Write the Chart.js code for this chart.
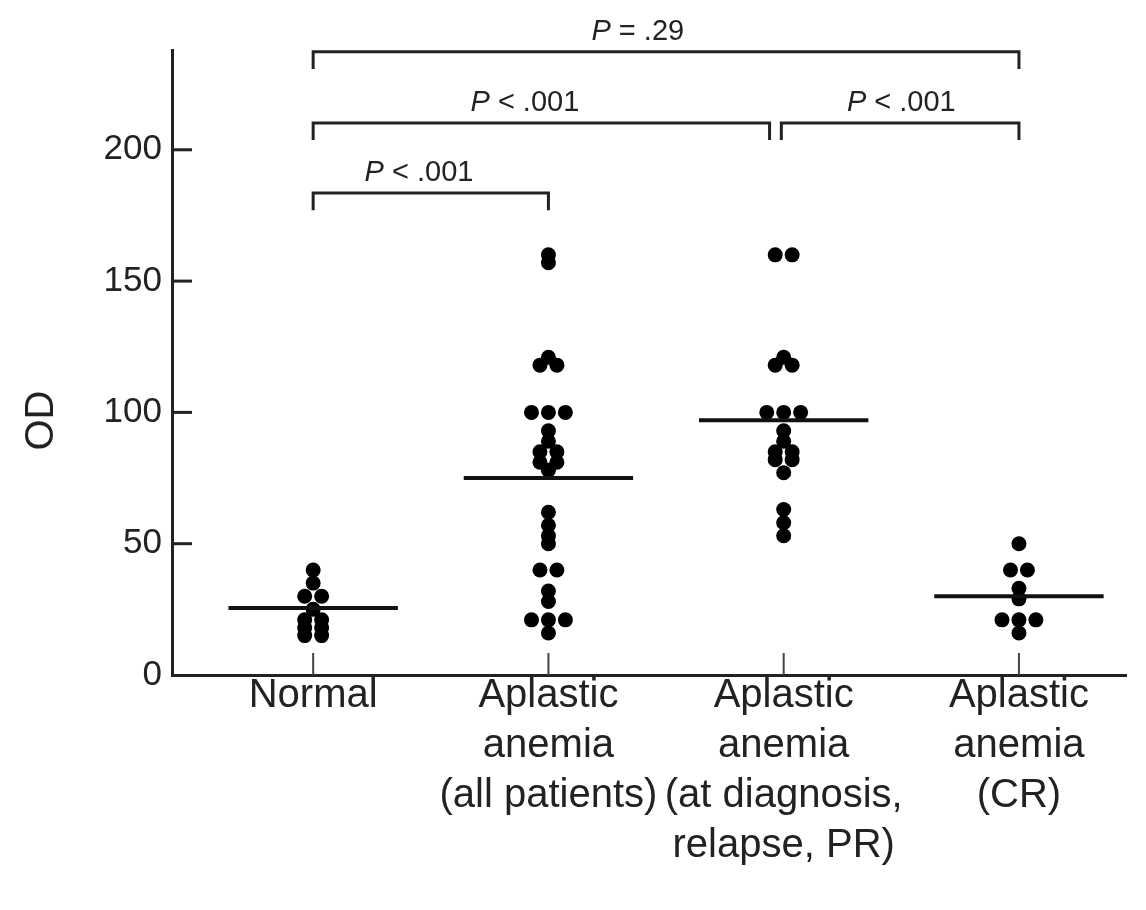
<!DOCTYPE html>
<html>
<head>
<meta charset="utf-8">
<script src="https://cdn.jsdelivr.net/npm/chart.js@4.4.1/dist/chart.umd.min.js"></script>
<style>
  html, body { margin: 0; padding: 0; background: #fff; }
  #wrap { width: 1146px; height: 910px; position: relative; }
</style>
</head>
<body>
<div id="wrap"><canvas id="odChart"></canvas></div>
<script>
// groups along the x axis
const categories = [
  'Normal',
  ['Aplastic', 'anemia', '(all patients)'],
  ['Aplastic', 'anemia', '(at diagnosis,', 'relapse, PR)'],
  ['Aplastic', 'anemia', '(CR)']
];

// OD values per group
const normalOD = [40, 35, 30, 30, 25, 21, 21, 18, 18, 15, 15];
const allPatientsOD = [160, 157, 121, 118, 118, 100, 100, 100, 93, 89, 85, 85, 81, 81, 78,
                       62, 57, 53, 50, 40, 40, 32, 28, 21, 21, 21, 16];
const activeOD = [160, 160, 121, 118, 118, 100, 100, 100, 93, 89, 85, 85, 82, 82, 77, 63, 58, 53];
const crOD = [50, 40, 40, 33, 29, 21, 21, 21, 16];

// horizontal mean bars
const groupMeans = [25.5, 75, 97, 30];

const yTicks = [0, 50, 100, 150, 200];

// significance brackets
const bracketStart = [1, 1, 2.99, 1];
const bracketEnd = [4, 2.94, 4, 2];
const bracketLevel = [237.3, 210.2, 210.2, 183.5];
const bracketText = [' = .29', ' < .001', ' < .001', ' < .001'];
const bracketTextX = [2.38, 1.9, 3.5, 1.45];

const FONT = '"Liberation Sans", Arial, Helvetica, sans-serif';
const INK = '#222';
const DOT_STEP = 0.072;     // sideways step between tied dots (x units)
const BRACKET_DROP = 6.5;   // bracket legs (y units)

// spread tied values side by side, like a column scatter
function swarm(values, center) {
  const counts = {};
  values.forEach(v => { counts[v] = (counts[v] || 0) + 1; });
  const seen = {};
  return values.map(v => {
    seen[v] = (seen[v] || 0) + 1;
    const off = (seen[v] - 1 - (counts[v] - 1) / 2) * DOT_STEP;
    return { x: center + off, y: v };
  });
}

const groups = [normalOD, allPatientsOD, activeOD, crOD];

const dotSets = groups.map((vals, i) => ({
  type: 'scatter',
  data: swarm(vals, i + 1),
  pointRadius: 7.5,
  pointHoverRadius: 7.5,
  backgroundColor: '#000',
  borderWidth: 0,
  order: 2
}));

const meanSets = groupMeans.map((m, i) => ({
  type: 'line',
  data: [{ x: i + 1 - 0.36, y: m }, { x: i + 1 + 0.36, y: m }],
  borderColor: '#111',
  borderWidth: 4,
  pointRadius: 0,
  fill: false,
  order: 1
}));

const bracketSets = bracketStart.map((s, i) => ({
  type: 'line',
  data: [
    { x: s, y: bracketLevel[i] - BRACKET_DROP },
    { x: s, y: bracketLevel[i] },
    { x: bracketEnd[i], y: bracketLevel[i] },
    { x: bracketEnd[i], y: bracketLevel[i] - BRACKET_DROP }
  ],
  borderColor: INK,
  borderWidth: 3,
  borderJoinStyle: 'miter',
  pointRadius: 0,
  fill: false,
  clip: false,
  order: 1
}));

// inward tick marks, P values and the y title
const decor = {
  id: 'decor',
  afterDatasetsDraw(chart) {
    const { ctx, chartArea, scales: { x, y } } = chart;
    ctx.save();
    ctx.strokeStyle = INK;
    ctx.lineWidth = 3;
    yTicks.forEach(v => {
      if (v === 0) return;
      const py = y.getPixelForValue(v);
      ctx.beginPath();
      ctx.moveTo(chartArea.left, py);
      ctx.lineTo(chartArea.left + 20, py);
      ctx.stroke();
    });
    ctx.lineWidth = 2;
    ctx.strokeStyle = '#444';
    categories.forEach((c, i) => {
      const px = x.getPixelForValue(i + 1);
      ctx.beginPath();
      ctx.moveTo(px, chartArea.bottom);
      ctx.lineTo(px, chartArea.bottom - 22);
      ctx.stroke();
    });

    ctx.fillStyle = INK;
    ctx.textBaseline = 'middle';
    ctx.textAlign = 'left';
    bracketText.forEach((t, i) => {
      const cx = x.getPixelForValue(bracketTextX[i]);
      const cy = y.getPixelForValue(bracketLevel[i]) - 20;
      ctx.font = 'italic 29px ' + FONT;
      const wP = ctx.measureText('P').width;
      ctx.font = '29px ' + FONT;
      const wT = ctx.measureText(t).width;
      const left = cx - (wP + wT) / 2;
      ctx.font = 'italic 29px ' + FONT;
      ctx.fillText('P', left, cy);
      ctx.font = '29px ' + FONT;
      ctx.fillText(t, left + wP, cy);
    });

    ctx.translate(42, (chartArea.top + chartArea.bottom) / 2 + 58);
    ctx.rotate(-Math.PI / 2);
    ctx.textAlign = 'center';
    ctx.font = '40px ' + FONT;
    ctx.fillText('OD', 0, 0);
    ctx.restore();
  }
};

new Chart(document.getElementById('odChart').getContext('2d'), {
  type: 'scatter',
  data: { datasets: [...bracketSets, ...meanSets, ...dotSets] },
  options: {
    responsive: true,
    maintainAspectRatio: false,
    animation: false,
    events: [],
    layout: { padding: { top: 50, right: 20, left: 0, bottom: 0 } },
    plugins: {
      legend: { display: false },
      tooltip: { enabled: false }
    },
    scales: {
      x: {
        type: 'linear',
        min: 0.4,
        max: 4.455,
        afterFit: s => { s.height = 235; },
        afterBuildTicks: s => { s.ticks = categories.map((c, i) => ({ value: i + 1 })); },
        grid: { display: false, drawTicks: false },
        border: { display: true, color: INK, width: 3 },
        ticks: {
          callback: v => categories[v - 1],
          font: { size: 40, family: FONT, lineHeight: 1.25 },
          color: INK,
          padding: -4,
          autoSkip: false,
          maxRotation: 0,
          minRotation: 0
        }
      },
      y: {
        min: 0,
        max: 238,
        afterFit: s => { s.width = 172; },
        afterBuildTicks: s => { s.ticks = yTicks.map(v => ({ value: v })); },
        grid: { display: false, drawTicks: false },
        border: { display: true, color: INK, width: 3 },
        ticks: {
          font: { size: 35, family: FONT },
          color: INK,
          padding: 10
        }
      }
    }
  },
  plugins: [decor]
});
</script>
</body>
</html>
